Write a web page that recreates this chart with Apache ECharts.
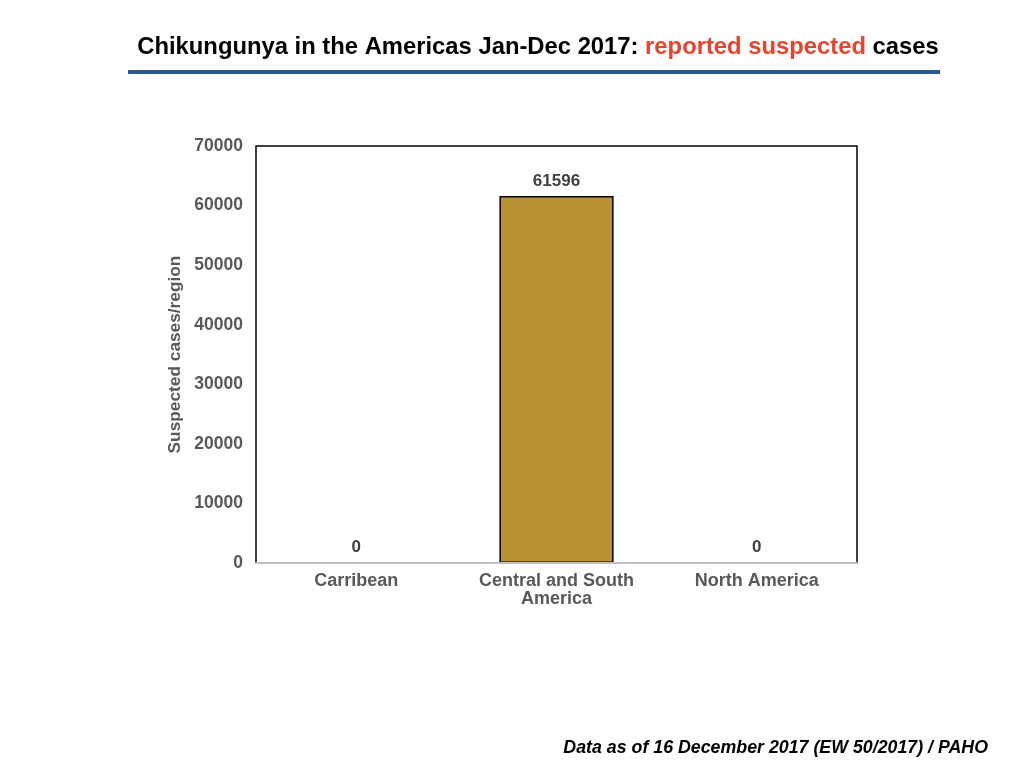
<!DOCTYPE html>
<html><head><meta charset="utf-8">
<script src="https://cdn.jsdelivr.net/npm/echarts@6/dist/echarts.min.js"></script>
<style>html,body{margin:0;padding:0;background:#fff}#c{width:1024px;height:768px}</style>
</head><body><div id="c"></div>
<script>
const categories = ['Carribean', 'Central and South\nAmerica', 'North America'];
const suspectedCases = [0, 61596, 0];
const yTicks = { min: 0, max: 70000, interval: 10000 };

const chart = echarts.init(document.getElementById('c'));
const font = '"Liberation Sans", Arial, Helvetica, sans-serif';
chart.setOption({
  animation: false,
  textStyle: { fontFamily: font },
  title: [{
    text: '{a|Chikungunya in the Americas Jan-Dec 2017: }{b|reported suspected}{a| cases}',
    left: 533, top: 30, textAlign: 'center',
    textStyle: {
      rich: {
        a: { fontFamily: font, fontSize: 23.8, fontWeight: 'bold', color: '#000' },
        b: { fontFamily: font, fontSize: 23.8, fontWeight: 'bold', color: '#e8432b' }
      }
    }
  }, {
    text: 'Data as of 16 December 2017 (EW 50/2017) / PAHO',
    right: 31, top: 734,
    textStyle: { fontFamily: font, fontSize: 17.8, fontWeight: 'bold', fontStyle: 'italic', color: '#000' }
  }],
  graphic: [{
    type: 'rect', shape: { x: 128, y: 70, width: 812, height: 4 },
    style: { fill: '#2d5a96' }
  }],
  grid: { left: 256, right: 167, top: 146, bottom: 205, show: true, borderColor: '#000', borderWidth: 1.5, backgroundColor: 'transparent' },
  xAxis: {
    type: 'category', data: categories, z: 10,
    axisLine: { show: true, lineStyle: { color: '#bfbfbf', width: 2 } },
    axisTick: { show: false },
    axisLabel: { color: '#595959', fontSize: 18, fontWeight: 'bold', fontFamily: font, margin: 9, lineHeight: 18, interval: 0 }
  },
  yAxis: {
    type: 'value', min: yTicks.min, max: yTicks.max, interval: yTicks.interval,
    name: 'Suspected cases/region', nameLocation: 'middle', nameGap: 69, nameRotate: 90,
    nameTextStyle: { color: '#595959', fontSize: 17.3, fontWeight: 'bold', fontFamily: font },
    axisLine: { show: false }, axisTick: { show: false }, splitLine: { show: false },
    axisLabel: { color: '#595959', fontSize: 17.5, fontWeight: 'bold', fontFamily: font, margin: 13,
      formatter: v => String(v) }
  },
  series: [{
    type: 'bar', data: suspectedCases, barWidth: '57%',
    itemStyle: { color: '#b79132', borderColor: '#000', borderWidth: 1.5 },
    label: { show: true, position: 'top', distance: 6, color: '#404040', fontSize: 17, fontWeight: 'bold', fontFamily: font }
  }]
});
</script></body></html>
